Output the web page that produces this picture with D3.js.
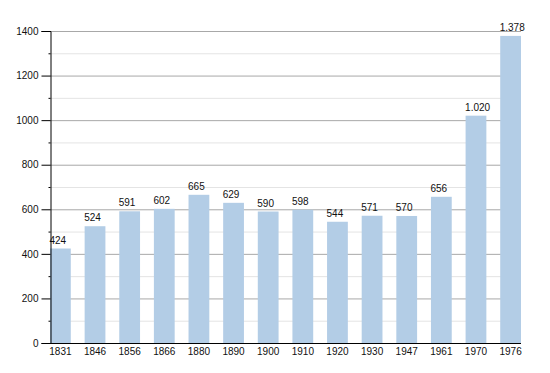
<!DOCTYPE html>
<html><head><meta charset="utf-8">
<script src="https://cdn.jsdelivr.net/npm/d3@7"></script>
<style>body{margin:0;background:#fff}svg{display:block}text{font-family:"Liberation Sans",Arial,sans-serif;font-size:10px;fill:#111}</style>
</head><body>
<script>
const years = ["1831","1846","1856","1866","1880","1890","1900","1910","1920","1930","1947","1961","1970","1976"];
const population = [424,524,591,602,665,629,590,598,544,571,570,656,1020,1378];
const yMajorTicks = [0,200,400,600,800,1000,1200,1400];
const yMinorTicks = [100,300,500,700,900,1100,1300];

const W=550,H=373, mLeft=50, mRight=521, mTop=31, mBottom=343;
const svg=d3.select("body").append("svg").attr("width",W).attr("height",H);
const x=d3.scaleBand().domain(years).range([mLeft,mRight]).paddingInner(0.4).paddingOuter(0);
const y=d3.scaleLinear().domain([0,1400]).range([mBottom,mTop]);
const fmt=v=>d3.format(",")(v).replace(/,/g,".");

svg.append("g").selectAll("line").data(yMinorTicks).join("line")
 .attr("x1",mLeft).attr("x2",mRight).attr("y1",d=>y(d)+0.5).attr("y2",d=>y(d)+0.5)
 .attr("stroke","#e4e4e4").attr("stroke-width",1);
svg.append("g").selectAll("line").data(yMajorTicks.filter(d=>d>0)).join("line")
 .attr("x1",mLeft).attr("x2",mRight).attr("y1",d=>y(d)+0.5).attr("y2",d=>y(d)+0.5)
 .attr("stroke","#a8a8a8").attr("stroke-width",1);

svg.append("g").selectAll("rect").data(population).join("rect")
 .attr("x",(d,i)=>x(years[i])).attr("width",x.bandwidth())
 .attr("y",d=>y(d)).attr("height",d=>mBottom-y(d)).attr("fill","#b3cde6");

svg.append("g").selectAll("text").data(population).join("text")
 .attr("x",(d,i)=>x(years[i])-0.5).attr("y",d=>y(d)-5)
 .attr("text-anchor","start").text(d=>fmt(d));

// y axis
svg.append("g").attr("transform",`translate(${mLeft+0.5},0)`)
 .call(d3.axisLeft(y).tickValues(yMajorTicks).tickSize(9).tickPadding(3).tickFormat(d=>d));
svg.append("g").attr("transform",`translate(${mLeft+0.5},0)`)
 .call(d3.axisLeft(y).tickValues(yMinorTicks).tickSize(2).tickFormat(""))
 .select(".domain").remove();
// x axis
const xa=svg.append("g").attr("transform",`translate(0,${mBottom+0.5})`)
 .call(d3.axisBottom(x).tickSize(0).tickPadding(4));
xa.select(".domain").attr("d",`M${mLeft},0H${mRight}`);
svg.selectAll(".tick text").attr("font-family","Liberation Sans, Arial, sans-serif").attr("font-size",10).attr("fill","#111");
svg.selectAll(".domain,.tick line").attr("stroke","#000");
</script>
</body></html>
